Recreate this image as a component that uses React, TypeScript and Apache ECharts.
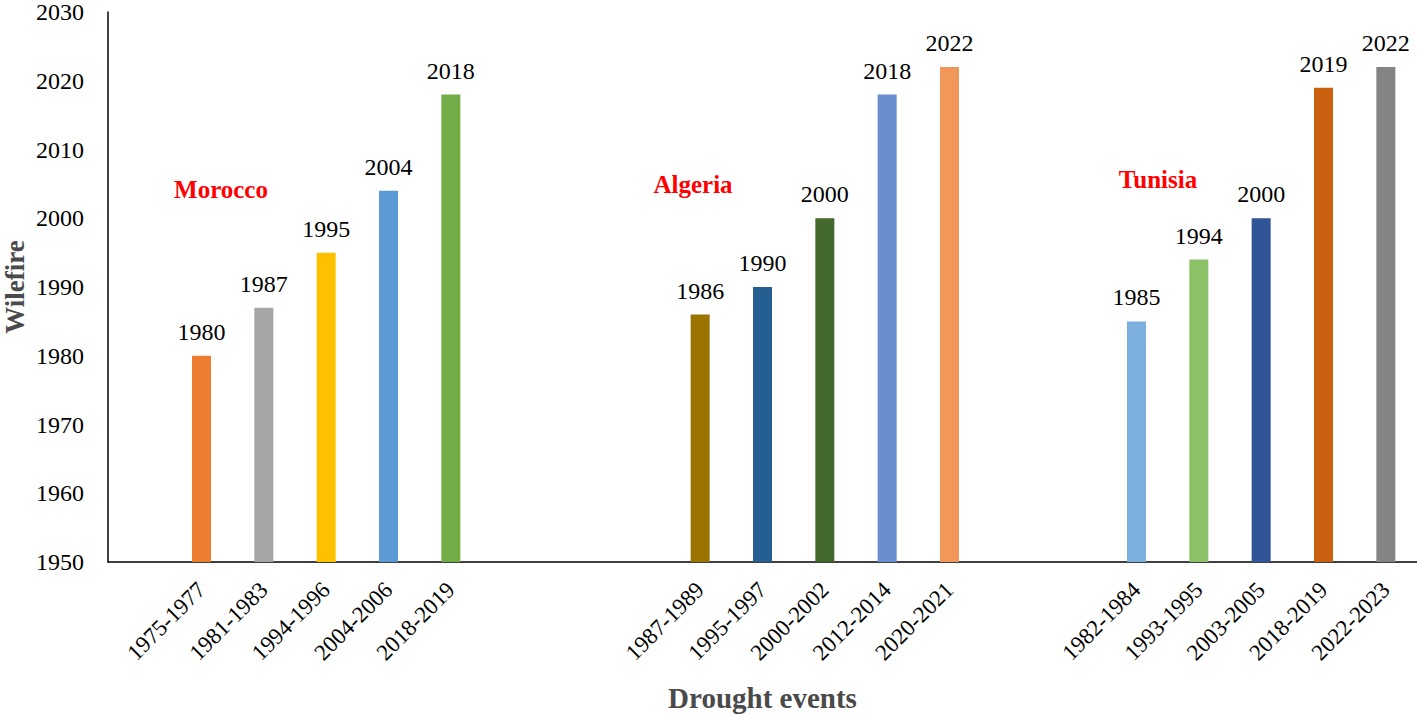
import React, { useEffect, useRef } from "react";
import * as echarts from "echarts";

const moroccoPeriods = ["1975-1977", "1981-1983", "1994-1996", "2004-2006", "2018-2019"];
const moroccoYears = [1980, 1987, 1995, 2004, 2018];
const moroccoColors = ["#ED7D31", "#A5A5A5", "#FFC000", "#5B9BD5", "#70AD47"];

const algeriaPeriods = ["1987-1989", "1995-1997", "2000-2002", "2012-2014", "2020-2021"];
const algeriaYears = [1986, 1990, 2000, 2018, 2022];
const algeriaColors = ["#9A7300", "#255E91", "#43682B", "#698ED0", "#F1975A"];

const tunisiaPeriods = ["1982-1984", "1993-1995", "2003-2005", "2018-2019", "2022-2023"];
const tunisiaYears = [1985, 1994, 2000, 2019, 2022];
const tunisiaColors = ["#7CAFDD", "#8CC168", "#2F5597", "#C9600F", "#848484"];

const yTicks = [1950, 1960, 1970, 1980, 1990, 2000, 2010, 2020, 2030];

const FONT = "Liberation Serif";

function buildSlots() {
  const cats: string[] = [];
  const data: any[] = [];
  const blank = (n: number) => {
    for (let i = 0; i < n; i++) {
      cats.push("");
      data.push(null);
    }
  };
  const group = (periods: string[], years: number[], colors: string[]) => {
    periods.forEach((p, i) => {
      if (i > 0) blank(1);
      cats.push(p);
      data.push({ value: years[i], itemStyle: { color: colors[i] } });
    });
  };
  blank(3);
  group(moroccoPeriods, moroccoYears, moroccoColors);
  blank(7);
  group(algeriaPeriods, algeriaYears, algeriaColors);
  blank(5);
  group(tunisiaPeriods, tunisiaYears, tunisiaColors);
  blank(1);
  return { cats, data };
}

export default function App() {
  const ref = useRef<HTMLDivElement>(null);
  useEffect(() => {
    document.body.style.margin = "0";
    if (!ref.current) return;
    const chart = echarts.init(ref.current, undefined, { renderer: "svg" });
    const { cats, data } = buildSlots();
    chart.setOption({
      animation: false,
      backgroundColor: "#ffffff",
      textStyle: { fontFamily: FONT },
      grid: { left: 108, top: 12, right: 0, bottom: 153, containLabel: false, outerBoundsMode: "none" },
      xAxis: {
        type: "category",
        data: cats,
        boundaryGap: false,
        axisLine: { show: true, lineStyle: { color: "#000", width: 1.5 } },
        axisTick: { show: false },
        axisLabel: {
          interval: 0,
          rotate: 45,
          margin: 24,
          fontSize: 23,
          fontFamily: FONT,
          color: "#000",
          hideOverlap: false,
        },
        splitLine: { show: false },
        name: "Drought events",
        nameLocation: "middle",
        nameMoveOverlap: false,
        nameGap: 121,
        nameTextStyle: { fontSize: 29, fontWeight: "bold", fontFamily: FONT, color: "#4a4a4a" },
      },
      yAxis: {
        type: "value",
        min: yTicks[0],
        max: yTicks[yTicks.length - 1],
        interval: yTicks[1] - yTicks[0],
        axisLine: { show: true, lineStyle: { color: "#000", width: 1.5 } },
        axisTick: { show: false },
        splitLine: { show: false },
        axisLabel: {
          fontSize: 24,
          fontFamily: FONT,
          color: "#000",
          margin: 24,
          formatter: (v: number) => String(v),
        },
        name: "Wilefire",
        nameLocation: "middle",
        nameMoveOverlap: false,
        nameGap: 80,
        nameTextStyle: { fontSize: 27, fontWeight: "bold", fontFamily: FONT, color: "#4a4a4a" },
      },
      series: [
        {
          type: "bar",
          data,
          barWidth: 19,
          label: {
            show: true,
            position: "top",
            distance: 12,
            fontSize: 24,
            fontFamily: FONT,
            color: "#000",
          },
        },
      ],
      graphic: [
        { type: "text", x: 221, y: 189, style: { text: "Morocco", fill: "#FF0000", font: `bold 25px ${FONT}`, textAlign: "center", textVerticalAlign: "middle" } },
        { type: "text", x: 693, y: 184, style: { text: "Algeria", fill: "#FF0000", font: `bold 25px ${FONT}`, textAlign: "center", textVerticalAlign: "middle" } },
        { type: "text", x: 1158, y: 179, style: { text: "Tunisia", fill: "#FF0000", font: `bold 25px ${FONT}`, textAlign: "center", textVerticalAlign: "middle" } },
      ],
    });
    return () => chart.dispose();
  }, []);
  return <div ref={ref} style={{ width: 1417, height: 715 }} />;
}
